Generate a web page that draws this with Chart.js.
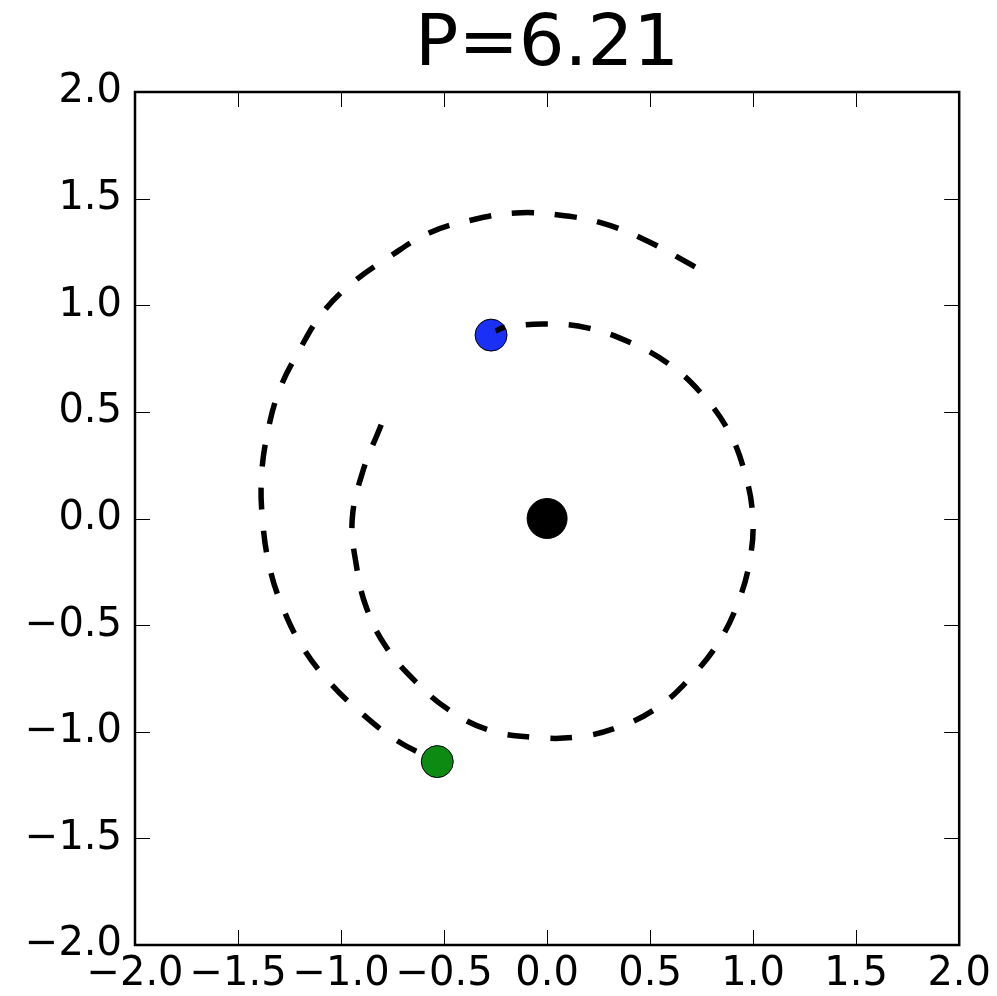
<!DOCTYPE html>
<html>
<head>
<meta charset="utf-8">
<script src="https://cdn.jsdelivr.net/npm/chart.js@4.4.1/dist/chart.umd.min.js"></script>
<style>
  html, body { margin: 0; padding: 0; background: #fff; }
  #wrap { width: 997px; height: 996px; position: relative; }
</style>
</head>
<body>
<div id="wrap"><canvas id="orbits"></canvas></div>
<script>
// ── Data ──
const titleText = 'P=6.21';
const tickValues = [-2.0, -1.5, -1.0, -0.5, 0.0, 0.5, 1.0, 1.5, 2.0];

// outer trail, oldest point first, ends at the green body
const outerX = [0.718, 0.476, 0.264, 0.056, -0.152, -0.365, -0.573, -0.767, -0.946, -1.091, -1.202,
  -1.299, -1.357, -1.386, -1.381, -1.347, -1.284, -1.187, -1.057, -0.902, -0.733, -0.560];
const outerY = [1.180, 1.306, 1.386, 1.423, 1.433, 1.400, 1.339, 1.226, 1.104, 0.963, 0.790,
  0.603, 0.401, 0.195, -0.007, -0.227, -0.415, -0.603, -0.767, -0.912, -1.039, -1.128];

// inner trail, oldest point first, ends at the blue body
const innerX = [-0.805, -0.897, -0.946, -0.926, -0.878, -0.781, -0.636, -0.476, -0.283, -0.075, 0.143,
  0.346, 0.539, 0.699, 0.830, 0.926, 0.984, 0.998, 0.960, 0.878, 0.747, 0.597, 0.409, 0.201,
  -0.002, -0.201, -0.250];
const innerY = [0.440, 0.213, -0.007, -0.218, -0.415, -0.603, -0.767, -0.898, -0.992, -1.025, -1.025,
  -0.978, -0.884, -0.743, -0.584, -0.396, -0.195, 0.007, 0.213, 0.415, 0.588, 0.720, 0.823, 0.893,
  0.912, 0.898, 0.880];

// bodies: star, inner planet, outer planet
const bodyX = [0.0, -0.272, -0.533];
const bodyY = [0.0, 0.860, -1.140];
const bodyColors = ['#000000', '#1a30f5', '#0c8a12'];
const bodyRadius = [20, 16, 16];

const FONT = "'DejaVu Sans', sans-serif";

const zip = (xs, ys) => xs.map((x, i) => ({ x, y: ys[i] }));
const fmt = v => Number(v).toFixed(1).replace('-', '\u2212');

// inward ticks on all four sides + black frame (matplotlib classic look)
const framePlugin = {
  id: 'frame',
  afterLayout(chart) {
    // centre the title over the plot area, not the whole canvas
    const tb = chart.titleBlock, a = chart.chartArea;
    if (tb) { tb.left = a.left; tb.right = a.right; tb.width = a.right - a.left; }
  },
  afterDatasetsDraw(chart) {
    const { ctx, chartArea: a, scales } = chart;
    const len = 15;
    ctx.save();
    ctx.strokeStyle = '#000';
    ctx.lineWidth = 1;
    ctx.beginPath();
    scales.x.ticks.forEach((t, i) => {
      const px = Math.round(scales.x.getPixelForTick(i)) + 0.5;
      ctx.moveTo(px, a.bottom); ctx.lineTo(px, a.bottom - len);
      ctx.moveTo(px, a.top); ctx.lineTo(px, a.top + len);
    });
    scales.y.ticks.forEach((t, i) => {
      const py = Math.round(scales.y.getPixelForTick(i)) + 0.5;
      ctx.moveTo(a.left, py); ctx.lineTo(a.left + len, py);
      ctx.moveTo(a.right, py); ctx.lineTo(a.right - len, py);
    });
    ctx.stroke();
    ctx.lineWidth = 2.5;
    ctx.strokeRect(a.left, a.top, a.right - a.left, a.bottom - a.top);
    ctx.restore();
  }
};

const axisCommon = {
  type: 'linear',
  min: -2, max: 2,
  grid: { display: false, drawTicks: false },
  border: { display: false },
  afterBuildTicks: scale => { scale.ticks = tickValues.map(v => ({ value: v })); },
};

const trail = (label, xs, ys) => ({
  label,
  type: 'line',
  data: zip(xs, ys),
  showLine: true,
  borderColor: '#000',
  borderWidth: 5.5,
  borderDash: [22, 21],
  borderCapStyle: 'butt',
  tension: 0.4,
  pointRadius: 0,
  fill: false,
  order: 1,
});

new Chart(document.getElementById('orbits'), {
  type: 'scatter',
  data: {
    datasets: [
      trail('outer trail', outerX, outerY),
      trail('inner trail', innerX, innerY),
      {
        label: 'bodies',
        data: zip(bodyX, bodyY),
        pointRadius: bodyRadius,
        pointBackgroundColor: bodyColors,
        pointBorderColor: '#000',
        pointBorderWidth: 1,
        order: 2,
      },
    ],
  },
  options: {
    responsive: true,
    maintainAspectRatio: false,
    animation: false,
    layout: { padding: { left: 0, right: 35, top: 0, bottom: 0 } },
    scales: {
      x: {
        ...axisCommon,
        position: 'bottom',
        ticks: {
          autoSkip: false, maxRotation: 0, minRotation: 0, padding: 6,
          color: '#000', font: { family: FONT, size: 40 },
          callback: fmt,
        },
        afterFit: s => { s.height = 51; },
      },
      y: {
        ...axisCommon,
        position: 'left',
        ticks: {
          autoSkip: false, padding: 13,
          color: '#000', font: { family: FONT, size: 40 },
          callback: fmt,
        },
        afterFit: s => { s.width = 135; },
      },
    },
    plugins: {
      legend: { display: false },
      tooltip: { enabled: false },
      title: {
        display: true,
        text: titleText,
        color: '#000',
        font: { family: FONT, size: 72, weight: 'normal', lineHeight: 1.2 },
        padding: { top: 3, bottom: 2.6 },
      },
    },
  },
  plugins: [framePlugin],
});
</script>
</body>
</html>
